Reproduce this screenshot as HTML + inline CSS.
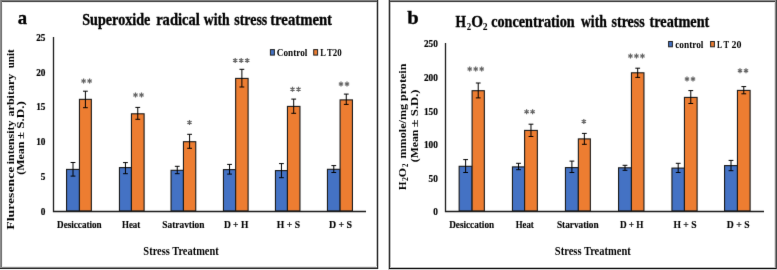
<!DOCTYPE html>
<html><head><meta charset="utf-8"><style>
html,body{margin:0;padding:0;background:#fff;width:777px;height:270px;overflow:hidden}
svg{display:block;will-change:transform}
text{font-family:"Liberation Serif", serif}
</style></head><body>
<svg width="777" height="270" viewBox="0 0 777 270">
<defs><filter id="bl" x="-5%" y="-5%" width="110%" height="110%" color-interpolation-filters="sRGB"><feConvolveMatrix order="3" kernelMatrix="0.00524 0.06192 0.00524 0.06192 0.73137 0.06192 0.00524 0.06192 0.00524" divisor="1" edgeMode="none"/></filter></defs>
<g filter="url(#bl)">
<rect x="66.55" y="169.40" width="12.90" height="41.60" fill="#4472C4" stroke="#1a1a1a" stroke-width="1.1"/>
<rect x="79.45" y="99.34" width="11.90" height="111.66" fill="#ED7D31" stroke="#1a1a1a" stroke-width="1.1"/>
<path d="M73.00 162.50V176.10M70.60 162.50H75.40M70.60 176.10H75.40" stroke="#000" stroke-width="1" fill="none"/>
<path d="M85.40 91.20V107.70M83.00 91.20H87.80M83.00 107.70H87.80" stroke="#000" stroke-width="1" fill="none"/>
<path d="M83.60 78.40V83.40M81.43 79.65L85.77 82.15M81.43 82.15L85.77 79.65" stroke="#646464" stroke-width="1.2" fill="none"/>
<path d="M89.60 78.40V83.40M87.43 79.65L91.77 82.15M87.43 82.15L91.77 79.65" stroke="#646464" stroke-width="1.2" fill="none"/>
<text x="0" y="0" font-size="10.5" font-weight="bold" transform="translate(57.09 227.8) scale(0.8686 1)" stroke="#000" stroke-width="0.15">Desiccation</text>
<rect x="119.45" y="167.60" width="12.00" height="43.40" fill="#4472C4" stroke="#1a1a1a" stroke-width="1.1"/>
<rect x="131.45" y="113.80" width="12.65" height="97.20" fill="#ED7D31" stroke="#1a1a1a" stroke-width="1.1"/>
<path d="M125.45 162.60V173.70M123.05 162.60H127.85M123.05 173.70H127.85" stroke="#000" stroke-width="1" fill="none"/>
<path d="M137.77 107.40V119.30M135.37 107.40H140.17M135.37 119.30H140.17" stroke="#000" stroke-width="1" fill="none"/>
<path d="M135.50 92.60V97.60M133.33 93.85L137.67 96.35M133.33 96.35L137.67 93.85" stroke="#646464" stroke-width="1.2" fill="none"/>
<path d="M141.50 92.60V97.60M139.33 93.85L143.67 96.35M139.33 96.35L143.67 93.85" stroke="#646464" stroke-width="1.2" fill="none"/>
<text x="0" y="0" font-size="10.5" font-weight="bold" transform="translate(121.99 227.8) scale(0.8468 1)" stroke="#000" stroke-width="0.15">Heat</text>
<rect x="171.05" y="170.30" width="12.40" height="40.70" fill="#4472C4" stroke="#1a1a1a" stroke-width="1.1"/>
<rect x="183.45" y="141.70" width="12.30" height="69.30" fill="#ED7D31" stroke="#1a1a1a" stroke-width="1.1"/>
<path d="M177.25 166.30V173.70M174.85 166.30H179.65M174.85 173.70H179.65" stroke="#000" stroke-width="1" fill="none"/>
<path d="M189.60 134.30V148.30M187.20 134.30H192.00M187.20 148.30H192.00" stroke="#000" stroke-width="1" fill="none"/>
<path d="M189.50 119.90V124.90M187.33 121.15L191.67 123.65M187.33 123.65L191.67 121.15" stroke="#646464" stroke-width="1.2" fill="none"/>
<text x="0" y="0" font-size="10.5" font-weight="bold" transform="translate(162.35 227.8) scale(0.8922 1)" stroke="#000" stroke-width="0.15">Satravtion</text>
<rect x="223.45" y="169.60" width="12.20" height="41.40" fill="#4472C4" stroke="#1a1a1a" stroke-width="1.1"/>
<rect x="235.65" y="78.40" width="12.45" height="132.60" fill="#ED7D31" stroke="#1a1a1a" stroke-width="1.1"/>
<path d="M229.55 164.40V174.10M227.15 164.40H231.95M227.15 174.10H231.95" stroke="#000" stroke-width="1" fill="none"/>
<path d="M241.88 69.30V87.00M239.47 69.30H244.28M239.47 87.00H244.28" stroke="#000" stroke-width="1" fill="none"/>
<path d="M235.20 57.90V62.90M233.03 59.15L237.37 61.65M233.03 61.65L237.37 59.15" stroke="#646464" stroke-width="1.2" fill="none"/>
<path d="M241.20 57.90V62.90M239.03 59.15L243.37 61.65M239.03 61.65L243.37 59.15" stroke="#646464" stroke-width="1.2" fill="none"/>
<path d="M247.20 57.90V62.90M245.03 59.15L249.37 61.65M245.03 61.65L249.37 59.15" stroke="#646464" stroke-width="1.2" fill="none"/>
<text x="0" y="0" font-size="10.5" font-weight="bold" transform="translate(223.89 227.8) scale(0.9052 1)" stroke="#000" stroke-width="0.15">D + H</text>
<rect x="275.45" y="170.60" width="12.00" height="40.40" fill="#4472C4" stroke="#1a1a1a" stroke-width="1.1"/>
<rect x="287.45" y="106.40" width="12.50" height="104.60" fill="#ED7D31" stroke="#1a1a1a" stroke-width="1.1"/>
<path d="M281.45 163.60V177.70M279.05 163.60H283.85M279.05 177.70H283.85" stroke="#000" stroke-width="1" fill="none"/>
<path d="M293.70 99.10V113.30M291.30 99.10H296.10M291.30 113.30H296.10" stroke="#000" stroke-width="1" fill="none"/>
<path d="M292.50 86.85V91.85M290.33 88.10L294.67 90.60M290.33 90.60L294.67 88.10" stroke="#646464" stroke-width="1.2" fill="none"/>
<path d="M298.50 86.85V91.85M296.33 88.10L300.67 90.60M296.33 90.60L300.67 88.10" stroke="#646464" stroke-width="1.2" fill="none"/>
<text x="0" y="0" font-size="10.5" font-weight="bold" transform="translate(276.78 227.8) scale(0.9218 1)" stroke="#000" stroke-width="0.15">H + S</text>
<rect x="327.45" y="169.30" width="12.65" height="41.70" fill="#4472C4" stroke="#1a1a1a" stroke-width="1.1"/>
<rect x="340.10" y="99.90" width="12.35" height="111.10" fill="#ED7D31" stroke="#1a1a1a" stroke-width="1.1"/>
<path d="M333.77 165.60V172.50M331.38 165.60H336.17M331.38 172.50H336.17" stroke="#000" stroke-width="1" fill="none"/>
<path d="M346.27 94.10V104.40M343.88 94.10H348.67M343.88 104.40H348.67" stroke="#000" stroke-width="1" fill="none"/>
<path d="M341.00 81.40V86.40M338.83 82.65L343.17 85.15M338.83 85.15L343.17 82.65" stroke="#646464" stroke-width="1.2" fill="none"/>
<path d="M347.00 81.40V86.40M344.83 82.65L349.17 85.15M344.83 85.15L349.17 82.65" stroke="#646464" stroke-width="1.2" fill="none"/>
<text x="0" y="0" font-size="10.5" font-weight="bold" transform="translate(328.88 227.8) scale(0.9409 1)" stroke="#000" stroke-width="0.15">D + S</text>
<path d="M53.5 37V211.5H366" stroke="#1a1a1a" stroke-width="1.3" fill="none"/>
<text x="45.5" y="214.80" font-size="10.3" text-anchor="end" font-weight="bold" stroke="#000" stroke-width="0.2" transform="translate(45.5 0) scale(0.9 1) translate(-45.5 0)">0</text>
<text x="45.5" y="180.00" font-size="10.3" text-anchor="end" font-weight="bold" stroke="#000" stroke-width="0.2" transform="translate(45.5 0) scale(0.9 1) translate(-45.5 0)">5</text>
<text x="45.5" y="145.20" font-size="10.3" text-anchor="end" font-weight="bold" stroke="#000" stroke-width="0.2" transform="translate(45.5 0) scale(0.9 1) translate(-45.5 0)">10</text>
<text x="45.5" y="110.40" font-size="10.3" text-anchor="end" font-weight="bold" stroke="#000" stroke-width="0.2" transform="translate(45.5 0) scale(0.9 1) translate(-45.5 0)">15</text>
<text x="45.5" y="75.60" font-size="10.3" text-anchor="end" font-weight="bold" stroke="#000" stroke-width="0.2" transform="translate(45.5 0) scale(0.9 1) translate(-45.5 0)">20</text>
<text x="45.5" y="40.80" font-size="10.3" text-anchor="end" font-weight="bold" stroke="#000" stroke-width="0.2" transform="translate(45.5 0) scale(0.9 1) translate(-45.5 0)">25</text>
<rect x="459.15" y="166.30" width="12.95" height="44.70" fill="#4472C4" stroke="#1a1a1a" stroke-width="1.1"/>
<rect x="472.10" y="90.70" width="12.25" height="120.30" fill="#ED7D31" stroke="#1a1a1a" stroke-width="1.1"/>
<path d="M465.62 159.60V172.50M463.23 159.60H468.02M463.23 172.50H468.02" stroke="#000" stroke-width="1" fill="none"/>
<path d="M478.23 83.00V97.90M475.83 83.00H480.62M475.83 97.90H480.62" stroke="#000" stroke-width="1" fill="none"/>
<path d="M469.70 66.50V71.50M467.53 67.75L471.87 70.25M467.53 70.25L471.87 67.75" stroke="#646464" stroke-width="1.2" fill="none"/>
<path d="M475.70 66.50V71.50M473.53 67.75L477.87 70.25M473.53 70.25L477.87 67.75" stroke="#646464" stroke-width="1.2" fill="none"/>
<path d="M481.70 66.50V71.50M479.53 67.75L483.87 70.25M479.53 70.25L483.87 67.75" stroke="#646464" stroke-width="1.2" fill="none"/>
<text x="0" y="0" font-size="10.5" font-weight="bold" transform="translate(449.19 227.9) scale(0.8765 1)" stroke="#000" stroke-width="0.15">Desiccation</text>
<rect x="512.45" y="166.90" width="12.15" height="44.10" fill="#4472C4" stroke="#1a1a1a" stroke-width="1.1"/>
<rect x="524.60" y="130.40" width="12.75" height="80.60" fill="#ED7D31" stroke="#1a1a1a" stroke-width="1.1"/>
<path d="M518.53 163.30V169.70M516.13 163.30H520.93M516.13 169.70H520.93" stroke="#000" stroke-width="1" fill="none"/>
<path d="M530.98 124.20V136.50M528.58 124.20H533.38M528.58 136.50H533.38" stroke="#000" stroke-width="1" fill="none"/>
<path d="M526.60 109.20V114.20M524.43 110.45L528.77 112.95M524.43 112.95L528.77 110.45" stroke="#646464" stroke-width="1.2" fill="none"/>
<path d="M532.60 109.20V114.20M530.43 110.45L534.77 112.95M530.43 112.95L534.77 110.45" stroke="#646464" stroke-width="1.2" fill="none"/>
<text x="0" y="0" font-size="10.5" font-weight="bold" transform="translate(515.70 227.9) scale(0.8374 1)" stroke="#000" stroke-width="0.15">Heat</text>
<rect x="565.45" y="167.60" width="12.90" height="43.40" fill="#4472C4" stroke="#1a1a1a" stroke-width="1.1"/>
<rect x="578.35" y="138.90" width="12.00" height="72.10" fill="#ED7D31" stroke="#1a1a1a" stroke-width="1.1"/>
<path d="M571.90 161.10V172.50M569.50 161.10H574.30M569.50 172.50H574.30" stroke="#000" stroke-width="1" fill="none"/>
<path d="M584.35 133.40V144.30M581.95 133.40H586.75M581.95 144.30H586.75" stroke="#000" stroke-width="1" fill="none"/>
<path d="M583.85 118.90V123.90M581.68 120.15L586.02 122.65M581.68 122.65L586.02 120.15" stroke="#646464" stroke-width="1.2" fill="none"/>
<text x="0" y="0" font-size="10.5" font-weight="bold" transform="translate(556.96 227.9) scale(0.8836 1)" stroke="#000" stroke-width="0.15">Starvation</text>
<rect x="618.55" y="167.80" width="12.90" height="43.20" fill="#4472C4" stroke="#1a1a1a" stroke-width="1.1"/>
<rect x="631.45" y="72.80" width="12.50" height="138.20" fill="#ED7D31" stroke="#1a1a1a" stroke-width="1.1"/>
<path d="M625.00 165.30V170.30M622.60 165.30H627.40M622.60 170.30H627.40" stroke="#000" stroke-width="1" fill="none"/>
<path d="M637.70 68.20V77.40M635.30 68.20H640.10M635.30 77.40H640.10" stroke="#000" stroke-width="1" fill="none"/>
<path d="M630.45 53.60V58.60M628.28 54.85L632.62 57.35M628.28 57.35L632.62 54.85" stroke="#646464" stroke-width="1.2" fill="none"/>
<path d="M636.45 53.60V58.60M634.28 54.85L638.62 57.35M634.28 57.35L638.62 54.85" stroke="#646464" stroke-width="1.2" fill="none"/>
<path d="M642.45 53.60V58.60M640.28 54.85L644.62 57.35M640.28 57.35L644.62 54.85" stroke="#646464" stroke-width="1.2" fill="none"/>
<text x="0" y="0" font-size="10.5" font-weight="bold" transform="translate(619.89 227.9) scale(0.8751 1)" stroke="#000" stroke-width="0.15">D + H</text>
<rect x="671.95" y="168.10" width="12.50" height="42.90" fill="#4472C4" stroke="#1a1a1a" stroke-width="1.1"/>
<rect x="684.45" y="97.40" width="12.65" height="113.60" fill="#ED7D31" stroke="#1a1a1a" stroke-width="1.1"/>
<path d="M678.20 163.30V172.50M675.80 163.30H680.60M675.80 172.50H680.60" stroke="#000" stroke-width="1" fill="none"/>
<path d="M690.78 90.60V103.50M688.38 90.60H693.18M688.38 103.50H693.18" stroke="#000" stroke-width="1" fill="none"/>
<path d="M687.00 76.60V81.60M684.83 77.85L689.17 80.35M684.83 80.35L689.17 77.85" stroke="#646464" stroke-width="1.2" fill="none"/>
<path d="M693.00 76.60V81.60M690.83 77.85L695.17 80.35M690.83 80.35L695.17 77.85" stroke="#646464" stroke-width="1.2" fill="none"/>
<text x="0" y="0" font-size="10.5" font-weight="bold" transform="translate(673.49 227.9) scale(0.9137 1)" stroke="#000" stroke-width="0.15">H + S</text>
<rect x="724.55" y="165.60" width="12.90" height="45.40" fill="#4472C4" stroke="#1a1a1a" stroke-width="1.1"/>
<rect x="737.45" y="90.40" width="12.65" height="120.60" fill="#ED7D31" stroke="#1a1a1a" stroke-width="1.1"/>
<path d="M731.00 160.40V170.70M728.60 160.40H733.40M728.60 170.70H733.40" stroke="#000" stroke-width="1" fill="none"/>
<path d="M743.78 86.60V93.80M741.38 86.60H746.18M741.38 93.80H746.18" stroke="#000" stroke-width="1" fill="none"/>
<path d="M740.00 68.25V73.25M737.83 69.50L742.17 72.00M737.83 72.00L742.17 69.50" stroke="#646464" stroke-width="1.2" fill="none"/>
<path d="M746.00 68.25V73.25M743.83 69.50L748.17 72.00M743.83 72.00L748.17 69.50" stroke="#646464" stroke-width="1.2" fill="none"/>
<text x="0" y="0" font-size="10.5" font-weight="bold" transform="translate(726.78 227.9) scale(0.9244 1)" stroke="#000" stroke-width="0.15">D + S</text>
<path d="M445.5 43.1V211.5H764" stroke="#1a1a1a" stroke-width="1.3" fill="none"/>
<text x="437.8" y="215.30" font-size="10.3" text-anchor="end" font-weight="bold" stroke="#000" stroke-width="0.2" transform="translate(437.8 0) scale(0.9 1) translate(-437.8 0)">0</text>
<text x="437.8" y="181.72" font-size="10.3" text-anchor="end" font-weight="bold" stroke="#000" stroke-width="0.2" transform="translate(437.8 0) scale(0.9 1) translate(-437.8 0)">50</text>
<text x="437.8" y="148.14" font-size="10.3" text-anchor="end" font-weight="bold" stroke="#000" stroke-width="0.2" transform="translate(437.8 0) scale(0.9 1) translate(-437.8 0)">100</text>
<text x="437.8" y="114.56" font-size="10.3" text-anchor="end" font-weight="bold" stroke="#000" stroke-width="0.2" transform="translate(437.8 0) scale(0.9 1) translate(-437.8 0)">150</text>
<text x="437.8" y="80.98" font-size="10.3" text-anchor="end" font-weight="bold" stroke="#000" stroke-width="0.2" transform="translate(437.8 0) scale(0.9 1) translate(-437.8 0)">200</text>
<text x="437.8" y="47.40" font-size="10.3" text-anchor="end" font-weight="bold" stroke="#000" stroke-width="0.2" transform="translate(437.8 0) scale(0.9 1) translate(-437.8 0)">250</text>
<text x="0" y="0" font-size="19.5" font-weight="bold" transform="translate(17.80 23.6) scale(0.9577 1)" stroke="#000" stroke-width="0.3">a</text>
<text x="0" y="0" font-size="19" font-weight="bold" transform="translate(407.23 23.6) scale(1.0842 1)" stroke="#000" stroke-width="0.3">b</text>
<text x="0" y="0" font-size="16.5" font-weight="bold" transform="translate(82.25 25.4) scale(0.8576 1)" stroke="#000" stroke-width="0.35">Superoxide</text>
<text x="0" y="0" font-size="16.5" font-weight="bold" transform="translate(156.16 25.4) scale(0.8821 1)" stroke="#000" stroke-width="0.35">radical</text>
<text x="0" y="0" font-size="16.5" font-weight="bold" transform="translate(203.80 25.4) scale(0.8324 1)" stroke="#000" stroke-width="0.35">with</text>
<text x="0" y="0" font-size="16.5" font-weight="bold" transform="translate(234.28 25.4) scale(0.8418 1)" stroke="#000" stroke-width="0.35">stress</text>
<text x="0" y="0" font-size="16.5" font-weight="bold" transform="translate(270.18 25.4) scale(0.8928 1)" stroke="#000" stroke-width="0.35">treatment</text>
<text x="0" y="0" font-size="16.2" font-weight="bold" transform="translate(455.59 26.5) scale(0.8330 1)" stroke="#000" stroke-width="0.35">H</text>
<text x="0" y="0" font-size="10.8" font-weight="bold" transform="translate(466.69 30.0) scale(0.8229 1)">2</text>
<text x="0" y="0" font-size="16.2" font-weight="bold" transform="translate(471.30 26.5) scale(0.9364 1)" stroke="#000" stroke-width="0.35">O</text>
<text x="0" y="0" font-size="10.8" font-weight="bold" transform="translate(482.75 30.0) scale(0.8914 1)">2</text>
<text x="0" y="0" font-size="16.2" font-weight="bold" transform="translate(491.16 26.6) scale(0.8761 1)" stroke="#000" stroke-width="0.35">concentration</text>
<text x="0" y="0" font-size="16.2" font-weight="bold" transform="translate(581.00 26.6) scale(0.8428 1)" stroke="#000" stroke-width="0.35">with</text>
<text x="0" y="0" font-size="16.2" font-weight="bold" transform="translate(611.57 26.6) scale(0.8640 1)" stroke="#000" stroke-width="0.35">stress</text>
<text x="0" y="0" font-size="16.2" font-weight="bold" transform="translate(649.58 26.6) scale(0.8782 1)" stroke="#000" stroke-width="0.35">treatment</text>
<rect x="270.40" y="49.60" width="4.00" height="5.50" fill="#4472C4" stroke="#222" stroke-width="1"/>
<text x="0" y="0" font-size="10.2" font-weight="bold" transform="translate(276.85 55.7) scale(0.9026 1)">Control</text>
<rect x="313.70" y="49.60" width="3.90" height="5.50" fill="#ED7D31" stroke="#222" stroke-width="1"/>
<text x="0" y="0" font-size="10.2" font-weight="bold" transform="translate(320.30 55.7) scale(0.8320 1)">L</text>
<text x="0" y="0" font-size="10.2" font-weight="bold" transform="translate(327.10 55.7) scale(0.8308 1)">T</text>
<text x="0" y="0" font-size="10.2" font-weight="bold" transform="translate(332.87 55.7) scale(0.8747 1)">20</text>
<rect x="668.60" y="41.50" width="3.80" height="5.30" fill="#4472C4" stroke="#222" stroke-width="1"/>
<text x="0" y="0" font-size="10.8" font-weight="bold" transform="translate(675.18 47.5) scale(0.8620 1)">control</text>
<rect x="710.60" y="41.50" width="3.80" height="5.30" fill="#ED7D31" stroke="#222" stroke-width="1"/>
<text x="0" y="0" font-size="10.8" font-weight="bold" transform="translate(717.01 47.6) scale(0.7094 1)">L</text>
<text x="0" y="0" font-size="10.8" font-weight="bold" transform="translate(723.50 47.6) scale(0.7709 1)">T</text>
<text x="0" y="0" font-size="10.8" font-weight="bold" transform="translate(731.54 47.6) scale(0.9215 1)">20</text>
<text x="0" y="0" font-size="12" font-weight="bold" transform="translate(143.36 254.8) scale(0.8697 1)">Stress Treatment</text>
<text x="0" y="0" font-size="12" font-weight="bold" transform="translate(554.85 254.8) scale(0.8755 1)">Stress Treatment</text>
<text x="0" y="0" font-size="10.6" font-weight="bold" transform="translate(14.4 229.66) rotate(-90) scale(1.2953 1)">Fluresence</text>
<text x="0" y="0" font-size="10.6" font-weight="bold" transform="translate(14.4 164.18) rotate(-90) scale(1.1221 1)">intensity</text>
<text x="0" y="0" font-size="10.6" font-weight="bold" transform="translate(14.4 116.42) rotate(-90) scale(1.1329 1)">arbitary</text>
<text x="0" y="0" font-size="10.6" font-weight="bold" transform="translate(14.4 68.33) rotate(-90) scale(1.0428 1)">unit</text>
<text x="0" y="0" font-size="10.6" font-weight="bold" transform="translate(24.4 174.76) rotate(-90) scale(1.1270 1)">(Mean</text>
<text x="0" y="0" font-size="10.6" font-weight="bold" transform="translate(24.4 139.12) rotate(-90) scale(1.2308 1)">±</text>
<text x="0" y="0" font-size="10.6" font-weight="bold" transform="translate(24.4 128.67) rotate(-90) scale(1.2329 1)">S.D.)</text>
<text x="0" y="0" font-size="10.6" font-weight="bold" transform="translate(406.1 189.9) rotate(-90) scale(1.02 1)">H</text>
<text x="0" y="0" font-size="7.2" font-weight="bold" transform="translate(407.9 181.1) rotate(-90) scale(1.1 1)">2</text>
<text x="0" y="0" font-size="10.6" font-weight="bold" transform="translate(406.1 177.2) rotate(-90) scale(1.12 1)">O</text>
<text x="0" y="0" font-size="7.2" font-weight="bold" transform="translate(407.9 167.0) rotate(-90) scale(0.95 1)">2</text>
<text x="0" y="0" font-size="10.6" font-weight="bold" transform="translate(406.2 158.59) rotate(-90) scale(1.1483 1)">mmole/mg</text>
<text x="0" y="0" font-size="10.6" font-weight="bold" transform="translate(406.2 101.04) rotate(-90) scale(1.1446 1)">protein</text>
<text x="0" y="0" font-size="10.6" font-weight="bold" transform="translate(418.3 162.25) rotate(-90) scale(1.1096 1)">(Mean</text>
<text x="0" y="0" font-size="10.6" font-weight="bold" transform="translate(418.3 127.17) rotate(-90) scale(1.3333 1)">±</text>
<text x="0" y="0" font-size="10.6" font-weight="bold" transform="translate(418.3 116.15) rotate(-90) scale(1.1953 1)">S.D.)</text>
</g>
<rect x="0" y="2" width="378" height="1" fill="#e6e6e6"/>
<rect x="2" y="2" width="1" height="265" fill="#f0f0f0"/>
<rect x="0" y="0" width="378" height="1" fill="#7d7d7d"/>
<rect x="0" y="1" width="378" height="1" fill="#505050"/>
<rect x="0" y="0" width="1" height="269" fill="#8c8c8c"/>
<rect x="1" y="1" width="1" height="268" fill="#7a7a7a"/>
<rect x="376" y="2" width="1" height="265" fill="#c0c0c0"/>
<rect x="378" y="0" width="1" height="269" fill="#c8c8c8"/>
<rect x="377" y="0" width="1" height="269" fill="#333333"/>
<rect x="2" y="266" width="375" height="1" fill="#e8e8e8"/>
<rect x="0" y="269" width="378" height="1" fill="#eeeeee"/>
<rect x="1" y="267" width="376" height="1" fill="#888888"/>
<rect x="0" y="268" width="378" height="1" fill="#333333"/>
<rect x="389" y="2" width="388" height="1" fill="#e6e6e6"/>
<rect x="774" y="2" width="1" height="265" fill="#e0e0e0"/>
<rect x="389" y="0" width="388" height="1" fill="#8a8a8a"/>
<rect x="389" y="1" width="388" height="1" fill="#484848"/>
<rect x="388" y="0" width="1" height="270" fill="#bbbbbb"/>
<rect x="390" y="2" width="1" height="265" fill="#bbbbbb"/>
<rect x="389" y="0" width="1" height="269" fill="#383838"/>
<rect x="775" y="0" width="1" height="269" fill="#888888"/>
<rect x="776" y="0" width="1" height="270" fill="#4a4a4a"/>
<rect x="390" y="267" width="385" height="1" fill="#bbbbbb"/>
<rect x="388" y="269" width="389" height="1" fill="#cccccc"/>
<rect x="389" y="268" width="387" height="1" fill="#1a1a1a"/>
</svg>
</body></html>
